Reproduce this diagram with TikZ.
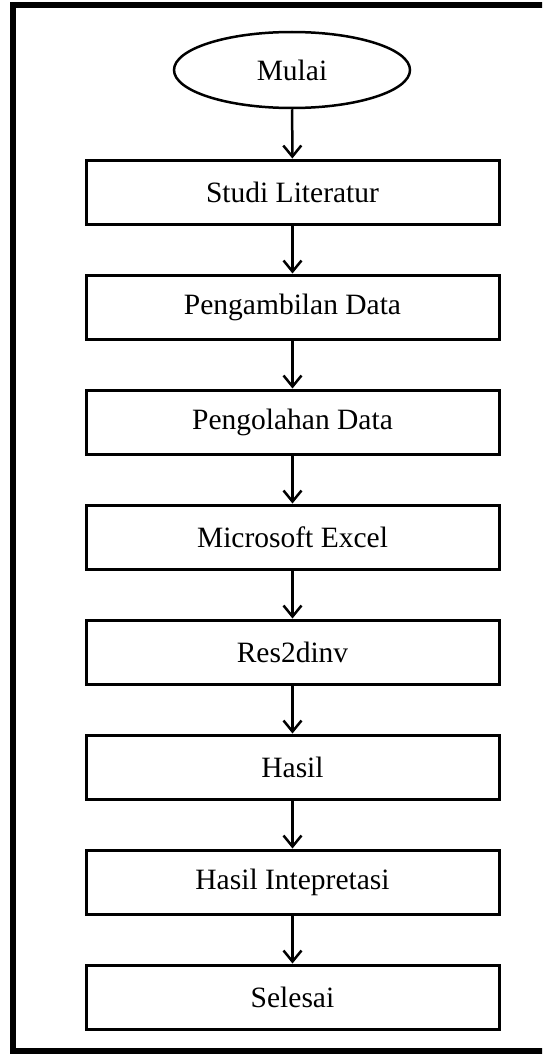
\documentclass[tikz,border=0pt]{standalone}
\usepackage{fontspec}
\setmainfont{Liberation Serif}
\usetikzlibrary{shapes.geometric,arrows.meta}
\begin{document}
\begin{tikzpicture}[x=1pt,y=-1pt,
  stepbox/.style={draw,line width=3pt,minimum width=413pt,minimum height=64pt,inner sep=0pt,font=\fontsize{29.5}{34}\selectfont},
  startend/.style={draw,ellipse,line width=2.5pt,minimum width=236pt,minimum height=76pt,inner sep=0pt,font=\fontsize{29.5}{34}\selectfont},
  flow/.style={line width=2.5pt,-{Straight Barb[length=11pt,width=18pt]}},
  frame/.style={line width=5.5pt}]
\clip (0,0) rectangle (542,1057);
\draw[frame] (13,5) rectangle (560,1051);
\node[startend] (mulai) at (292,70) {Mulai};
\node[stepbox] (s1) at (292.5,192) {Studi Literatur};
\node[stepbox] (s2) at (292.5,307) {Pengambilan Data};
\node[stepbox] (s3) at (292.5,422) {Pengolahan Data};
\node[stepbox] (s4) at (292.5,537) {Microsoft Excel};
\node[stepbox] (s5) at (292.5,652) {Res2dinv};
\node[stepbox] (s6) at (292.5,767) {Hasil};
\node[stepbox] (s7) at (292.5,882) {Hasil Intepretasi};
\node[stepbox] (s8) at (292.5,997) {Selesai};
\draw[flow] (mulai) -- (s1);
\draw[flow] (s1) -- (s2);
\draw[flow] (s2) -- (s3);
\draw[flow] (s3) -- (s4);
\draw[flow] (s4) -- (s5);
\draw[flow] (s5) -- (s6);
\draw[flow] (s6) -- (s7);
\draw[flow] (s7) -- (s8);
\end{tikzpicture}
\end{document}
